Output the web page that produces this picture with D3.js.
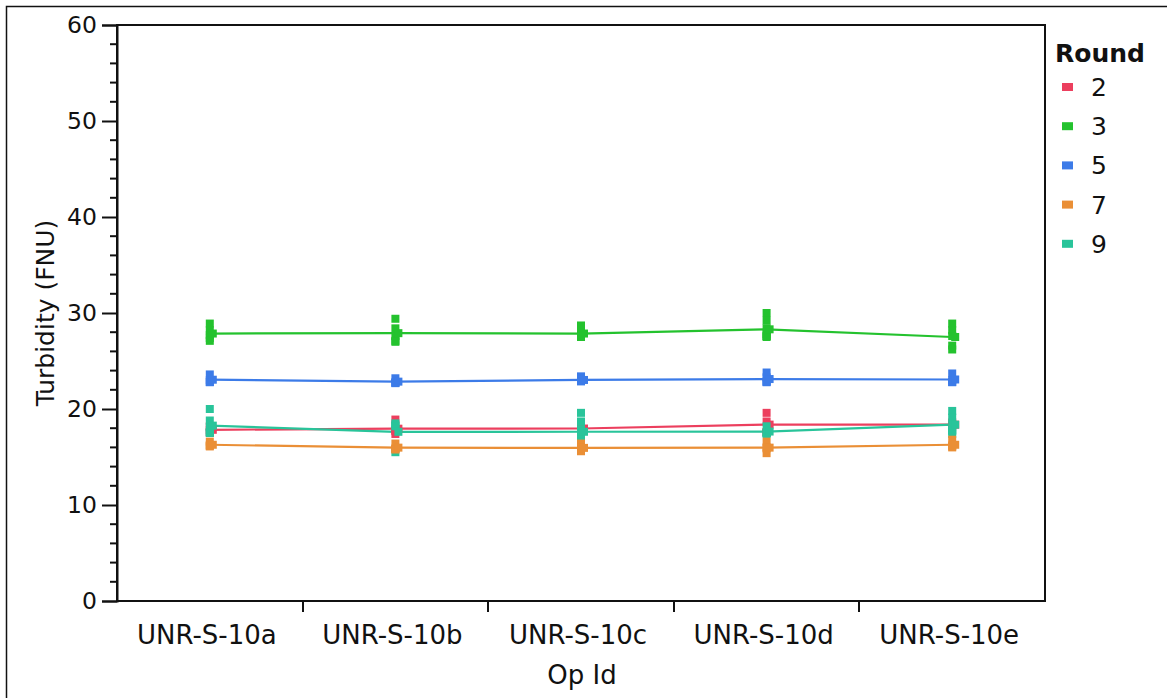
<!DOCTYPE html>
<html>
<head>
<meta charset="utf-8">
<script src="https://cdn.jsdelivr.net/npm/d3@7"></script>
<style>
  html, body { margin: 0; padding: 0; background: #fff; }
  svg { display: block; font-family: "DejaVu Sans", sans-serif; }
</style>
</head>
<body>
<svg id="chart" width="1167" height="698"></svg>
<script>
// Operators on the x axis
const opIds = ["UNR-S-10a", "UNR-S-10b", "UNR-S-10c", "UNR-S-10d", "UNR-S-10e"];

// Rounds shown in the legend
const rounds = ["2", "3", "5", "7", "9"];
const roundColors = ["#ec3f5e", "#24c22e", "#3c7be8", "#ea8f36", "#29c49a"];

// Turbidity readings (FNU), one list of replicates per operator
const round2 = [[18.2, 17.8, 17.5], [18.9, 17.7, 17.4, 17.8], [18.4, 17.9, 17.6], [19.6, 18.7, 17.6, 17.6], [18.6, 18.3, 18.2]];
const round3 = [[28.9, 28.2, 27.7, 27.4, 27.1], [29.4, 28.4, 27.6, 27.1, 27.0], [28.7, 28.0, 27.6, 27.5, 27.5], [30.0, 29.2, 28.4, 27.8, 27.6, 27.6, 27.5], [28.9, 28.2, 27.6, 26.6, 26.2]];
const round5 = [[23.6, 23.0, 22.8, 22.8], [23.2, 22.8, 22.7, 22.7], [23.4, 22.9, 22.9, 22.9], [23.8, 23.3, 22.9, 22.8, 22.8], [23.7, 23.0, 22.8, 22.8]];
const round7 = [[16.6, 16.2, 16.1, 16.2], [16.4, 15.9, 15.8, 15.8], [16.4, 16.0, 15.8, 15.6], [16.6, 16.0, 15.9, 15.4], [16.8, 16.2, 16.1, 16.0]];
const round9 = [[20.0, 18.8, 18.1, 17.6, 17.5, 17.6], [18.5, 18.3, 18.2, 15.5], [19.6, 18.7, 17.9, 17.2, 16.8, 16.6, 16.6], [18.2, 17.5, 17.5, 17.4], [19.8, 19.1, 18.4, 17.8, 17.4, 17.7]];

// Axis ticks
const yMajorTicks = [0, 10, 20, 30, 40, 50, 60];
const yMinorTicks = d3.range(0, 61, 2).filter(v => v % 10 !== 0);

const readings = [round2, round3, round5, round7, round9];
// Draw order: orange on top, then teal, etc.
const drawOrder = [0, 1, 2, 4, 3];

const svg = d3.select("#chart");
const plot = { left: 117, right: 1045, top: 25, bottom: 601 };

const x = d3.scaleBand().domain(opIds).range([plot.left, plot.right]);
const y = d3.scaleLinear().domain([0, 60]).range([plot.bottom, plot.top]);

// Outer frame
svg.append("rect")
  .attr("x", 6.5).attr("y", 6.5).attr("width", 1300).attr("height", 900)
  .attr("fill", "none").attr("stroke", "#111").attr("stroke-width", 1.5);

// Plot frame
svg.append("rect")
  .attr("x", plot.left).attr("y", plot.top)
  .attr("width", plot.right - plot.left).attr("height", plot.bottom - plot.top)
  .attr("fill", "none").attr("stroke", "#111").attr("stroke-width", 2);

// Y axis with major ticks
const yAxis = svg.append("g")
  .attr("transform", `translate(${plot.left},0)`)
  .call(d3.axisLeft(y).tickValues(yMajorTicks).tickSize(15).tickPadding(5).tickFormat(d3.format("d")));
yAxis.select(".domain").attr("stroke", "#111").attr("stroke-width", 2);
yAxis.selectAll(".tick line").attr("stroke", "#111").attr("stroke-width", 2);
yAxis.selectAll(".tick text")
  .attr("fill", "#111").style("font-size", "23.5px").style("font-family", "DejaVu Sans");

// Minor y ticks
svg.append("g").selectAll("line").data(yMinorTicks).join("line")
  .attr("x1", plot.left - 7).attr("x2", plot.left)
  .attr("y1", d => y(d)).attr("y2", d => y(d))
  .attr("stroke", "#111").attr("stroke-width", 2);

// X axis: ticks at category boundaries, labels centred in each band
const xAxis = svg.append("g");
xAxis.selectAll("line").data(opIds.slice(1)).join("line")
  .attr("x1", d => Math.round(x(d))).attr("x2", d => Math.round(x(d)))
  .attr("y1", plot.bottom).attr("y2", plot.bottom + 11)
  .attr("stroke", "#111").attr("stroke-width", 2);
xAxis.selectAll("text").data(opIds).join("text")
  .attr("x", d => x(d) + x.bandwidth() / 2 - 3)
  .attr("y", 644)
  .attr("text-anchor", "middle")
  .attr("fill", "#111")
  .style("font-size", "26px")
  .text(d => d);

// Axis titles
svg.append("text")
  .attr("x", 582).attr("y", 684)
  .attr("text-anchor", "middle").attr("fill", "#111")
  .style("font-size", "26px")
  .text("Op Id");

svg.append("text")
  .attr("transform", "translate(54,313) rotate(-90)")
  .attr("text-anchor", "middle").attr("fill", "#111")
  .style("font-size", "25px")
  .text("Turbidity (FNU)");

const cx = op => x(op) + x.bandwidth() / 2;
const msize = 8;

// Mean lines
const line = d3.line().x(d => cx(d.op)).y(d => y(d.mean));
drawOrder.forEach(i => {
  const means = opIds.map((op, j) => ({ op, mean: d3.mean(readings[i][j]) }));
  svg.append("path")
    .datum(means)
    .attr("d", line)
    .attr("fill", "none")
    .attr("stroke", roundColors[i])
    .attr("stroke-width", 2.2);
});

// Replicate points and mean markers
drawOrder.forEach(i => {
  const g = svg.append("g").attr("fill", roundColors[i]);
  const pts = [];
  opIds.forEach((op, j) => readings[i][j].forEach(v => pts.push({ op, v })));
  g.selectAll("rect.pt").data(pts).join("rect")
    .attr("class", "pt")
    .attr("x", d => cx(d.op) - msize / 2)
    .attr("y", d => y(d.v) - msize / 2)
    .attr("width", msize).attr("height", msize);
  const means = opIds.map((op, j) => ({ op, mean: d3.mean(readings[i][j]) }));
  g.selectAll("rect.mn").data(means).join("rect")
    .attr("class", "mn")
    .attr("x", d => cx(d.op) - msize / 2 + 3)
    .attr("y", d => y(d.mean) - msize / 2)
    .attr("width", msize).attr("height", msize);
});

// Legend
const legend = svg.append("g");
legend.append("text")
  .attr("x", 1055).attr("y", 62)
  .attr("fill", "#111")
  .style("font-size", "25px").style("font-weight", "bold")
  .text("Round");
const legendRows = legend.selectAll("g.item").data(rounds).join("g")
  .attr("class", "item")
  .attr("transform", (d, i) => `translate(0,${87 + i * 39.2})`);
legendRows.append("rect")
  .attr("x", 1062).attr("y", -4).attr("width", 11).attr("height", 8)
  .attr("fill", (d, i) => roundColors[i]);
legendRows.append("text")
  .attr("x", 1091).attr("y", 9)
  .attr("fill", "#111")
  .style("font-size", "25px")
  .text(d => d);
</script>
</body>
</html>
